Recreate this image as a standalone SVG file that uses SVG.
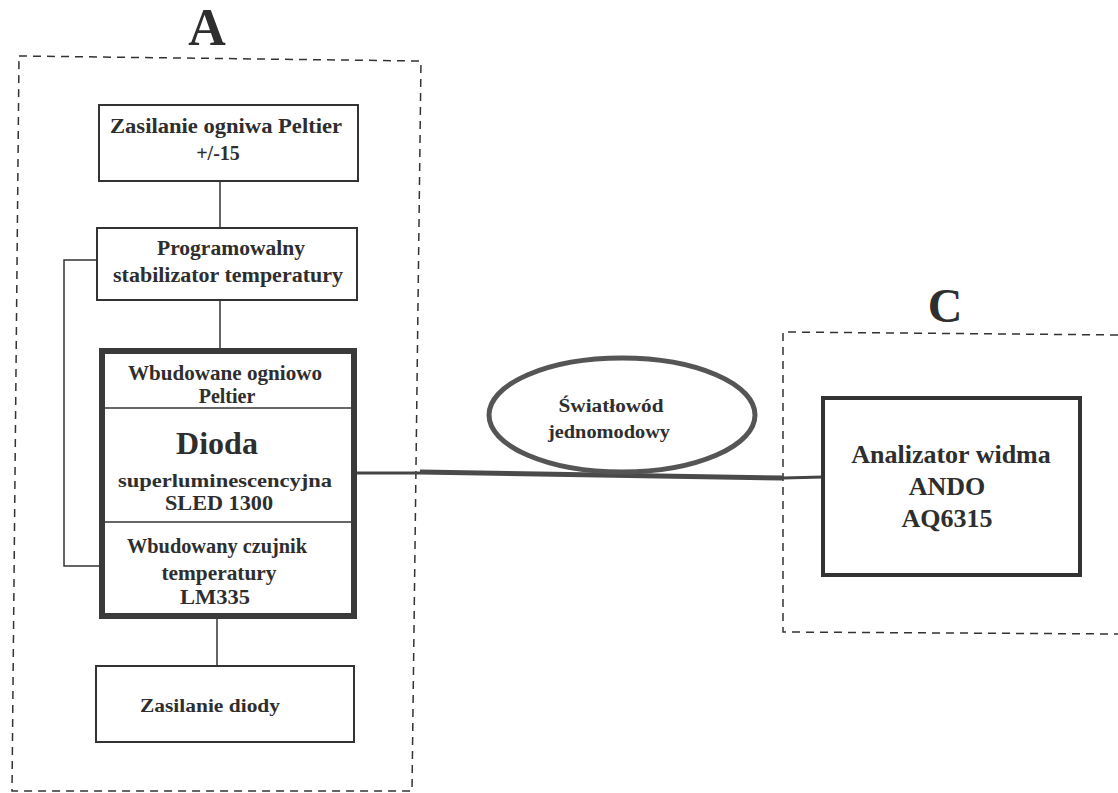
<svg xmlns="http://www.w3.org/2000/svg" width="1118" height="793" viewBox="0 0 1118 793">
<style>
.t{font-family:"Liberation Serif","Times New Roman",serif;font-weight:bold;fill:#2e2e2e;text-anchor:middle}
.box{fill:#fff;stroke:#333;stroke-width:2}
.thick{fill:#fff;stroke:#3a3a3a;stroke-width:6}
.dash{fill:none;stroke:#333;stroke-width:1.5;stroke-dasharray:8 6}
.ln{fill:none;stroke:#333;stroke-width:1.5}
</style>
<rect width="1118" height="793" fill="#fff"/>
<g id="groupA">
<path class="dash" d="M19,56 L421,61 L412,791 L12,791 Z"/>
<text class="t" x="207" y="45" font-size="52">A</text>
</g>
<g id="groupC">
<path class="dash" d="M1118,335 L783,332 L783,632 L1118,634"/>
<text class="t" x="945" y="322" font-size="48">C</text>
</g>
<g id="connectors">
<line class="ln" x1="220" y1="181" x2="220" y2="228"/>
<line class="ln" x1="220" y1="300" x2="220" y2="348"/>
<line class="ln" x1="217" y1="618" x2="217" y2="666"/>
<polyline class="ln" points="97,260 64,260 64,566 100,566"/>
<line x1="355" y1="473" x2="420" y2="473" stroke="#444" stroke-width="3"/>
<line x1="420" y1="472" x2="783" y2="478" stroke="#4a4a4a" stroke-width="5"/>
<line x1="783" y1="478" x2="823" y2="477" stroke="#444" stroke-width="3"/>
</g>
<g id="peltier-supply">
<rect class="box" x="99" y="105" width="259" height="76"/>
<text class="t" x="226" y="133" font-size="20" textLength="232" lengthAdjust="spacingAndGlyphs">Zasilanie ogniwa Peltier</text>
<text class="t" x="218" y="160" font-size="20">+/-15</text>
</g>
<g id="stabilizer">
<rect class="box" x="97" y="228" width="260" height="72"/>
<text class="t" x="231" y="255" font-size="20" textLength="148" lengthAdjust="spacingAndGlyphs">Programowalny</text>
<text class="t" x="228" y="282" font-size="20" textLength="230" lengthAdjust="spacingAndGlyphs">stabilizator temperatury</text>
</g>
<g id="diode">
<rect class="thick" x="102" y="351" width="252" height="265"/>
<line class="ln" x1="105" y1="408" x2="351" y2="408"/>
<line class="ln" x1="105" y1="522" x2="351" y2="522"/>
<text class="t" x="225" y="380" font-size="20" textLength="194" lengthAdjust="spacingAndGlyphs">Wbudowane ogniowo</text>
<text class="t" x="227" y="403" font-size="20">Peltier</text>
<text class="t" x="217" y="454" font-size="32">Dioda</text>
<text class="t" x="225" y="487" font-size="19" textLength="214" lengthAdjust="spacingAndGlyphs">superluminescencyjna</text>
<text class="t" x="219" y="510" font-size="20" textLength="108" lengthAdjust="spacingAndGlyphs">SLED 1300</text>
<text class="t" x="217" y="553" font-size="20" textLength="180" lengthAdjust="spacingAndGlyphs">Wbudowany czujnik</text>
<text class="t" x="219" y="580" font-size="20" textLength="115" lengthAdjust="spacingAndGlyphs">temperatury</text>
<text class="t" x="215" y="604" font-size="20" textLength="70" lengthAdjust="spacingAndGlyphs">LM335</text>
</g>
<g id="diode-supply">
<rect class="box" x="96" y="666" width="258" height="76"/>
<text class="t" x="210" y="712" font-size="18" textLength="140" lengthAdjust="spacingAndGlyphs">Zasilanie diody</text>
</g>
<g id="fiber">
<ellipse cx="622" cy="415" rx="133" ry="57" fill="none" stroke="#555" stroke-width="5"/>
<text class="t" x="611" y="412" font-size="18" font-weight="normal" textLength="105" lengthAdjust="spacingAndGlyphs">Światłowód</text>
<text class="t" x="609" y="438" font-size="18" font-weight="normal" textLength="122" lengthAdjust="spacingAndGlyphs">jednomodowy</text>
</g>
<g id="analyzer">
<rect x="823" y="398" width="257" height="177" fill="#fff" stroke="#333" stroke-width="4"/>
<text class="t" x="951" y="463" font-size="26">Analizator widma</text>
<text class="t" x="947" y="495" font-size="26">ANDO</text>
<text class="t" x="947" y="527" font-size="26">AQ6315</text>
</g>
</svg>
